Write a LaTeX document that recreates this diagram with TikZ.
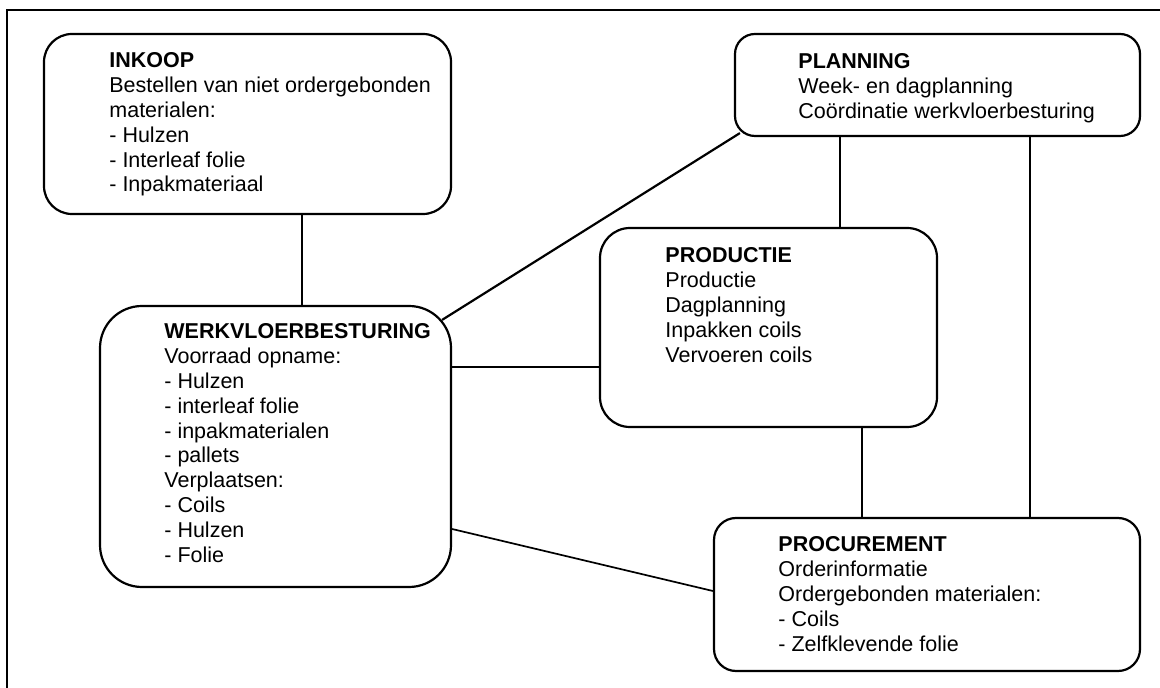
\documentclass[tikz,border=0pt]{standalone}
\usepackage{fontspec}
\setmainfont{Liberation Sans}
\newcommand{\lijst}[1]{\begin{tabular}[t]{@{}l@{}}#1\end{tabular}}

\begin{document}
\begin{tikzpicture}[x=0.5pt, y=-0.5pt,
    blok/.style={draw, line width=1.1pt, rounded corners=#1},
    tekst/.style={anchor=base west, inner sep=0pt,
        font=\fontsize{10.75pt}{12.4pt}\selectfont},
    lijn/.style={line width=1.1pt},
    diklijn/.style={line width=1.4pt},
    dunlijn/.style={line width=0.85pt}]

    \useasboundingbox (0,0) rectangle (1160,688);
    % kader
    \draw[line width=0.9pt] (7,688) -- (7,10) -- (1160,10);

    \node[blok=14pt,
        minimum width=203.5pt,
        minimum height=90pt] (inkoop) at (247.5,124) {};
    \node[tekst] (inkoop-tekst) at (109,68) {\lijst{\textbf{INKOOP}\\
        Bestellen van niet ordergebonden\\
        materialen:\\
        - Hulzen\\
        - Interleaf folie\\
        - Inpakmateriaal}};

    \node[blok=10pt,
        minimum width=202.5pt,
        minimum height=51pt] (planning) at (937.5,85) {};
    \node[tekst] (planning-tekst) at (798,69) {\lijst{\textbf{PLANNING}\\
        Week- en dagplanning\\
        Coördinatie werkvloerbesturing}};

    \node[blok=15pt,
        minimum width=168.5pt,
        minimum height=99.5pt] (productie) at (768.5,327.5) {};
    \node[tekst] (productie-tekst) at (665,263) {\lijst{\textbf{PRODUCTIE}\\
        Productie\\
        Dagplanning\\
        Inpakken coils\\
        Vervoeren coils}};

    \node[blok=21pt,
        minimum width=175.5pt,
        minimum height=140.5pt] (werk) at (275.5,446.5) {};
    \node[tekst] (werk-tekst) at (164,339) {\lijst{\textbf{WERKVLOERBESTURING}\\
        Voorraad opname:\\
        - Hulzen\\
        - interleaf folie\\
        - inpakmaterialen\\
        - pallets\\
        Verplaatsen:\\
        - Coils\\
        - Hulzen\\
        - Folie}};

    \node[blok=11pt,
        minimum width=213pt,
        minimum height=76.5pt] (procurement) at (927,594.5) {};
    \node[tekst] (procurement-tekst) at (778,552) {\lijst{\textbf{PROCUREMENT}\\
        Orderinformatie\\
        Ordergebonden materialen:\\
        - Coils\\
        - Zelfklevende folie}};

    % verbindingen
    \draw[diklijn] ([xshift=27.25pt]inkoop.south) -- ([xshift=27.25pt]inkoop.south |- werk.north);
    \draw[lijn] ([shift={(-10,15)}]werk.north east) -- ([shift={(6,-4)}]planning.south west);
    \draw[diklijn] ([yshift=-19.75pt]productie.west) -- ([yshift=-19.75pt]productie.west -| werk.east);
    \draw[dunlijn] ([yshift=-41.25pt]werk.east) -- ([yshift=1.75pt]procurement.west);
    \draw[lijn] ([xshift=-48.75pt]planning.south) -- ([xshift=-48.75pt]planning.south |- productie.north);
    \draw[lijn] ([xshift=46.25pt]planning.south) -- ([xshift=46.25pt]planning.south |- procurement.north);
    \draw[dunlijn] ([xshift=46.75pt]productie.south) -- ([xshift=46.75pt]productie.south |- procurement.north);

\end{tikzpicture}
\end{document}
